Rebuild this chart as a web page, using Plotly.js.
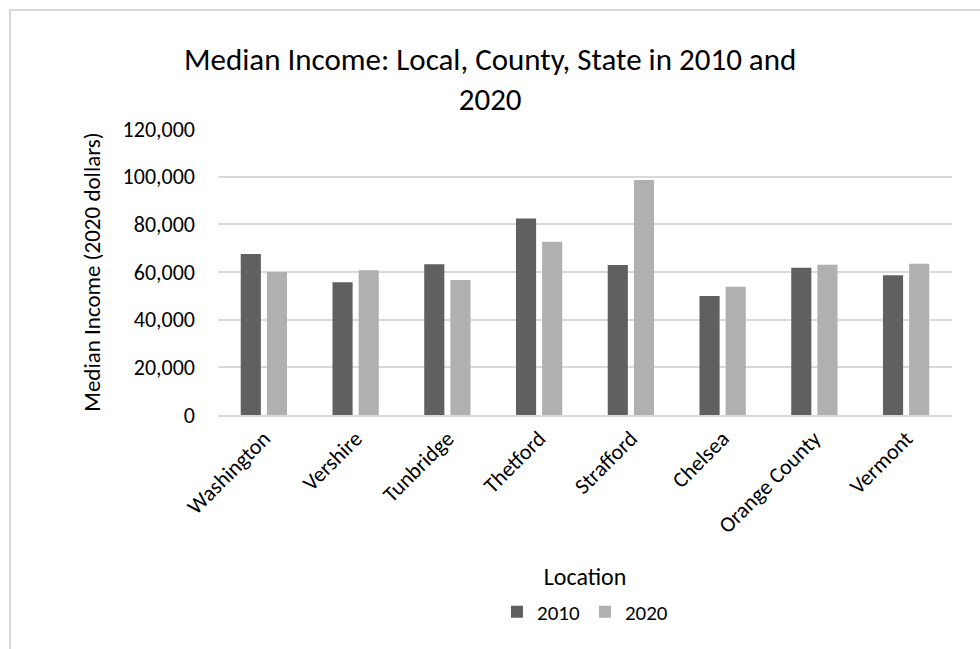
<!DOCTYPE html>
<html>
<head>
<meta charset="utf-8">
<script src="https://cdn.plot.ly/plotly-3.0.1.min.js"></script>
<style>
  html, body { margin: 0; padding: 0; background: #fff; }
  #frame { position: absolute; left: 9px; top: 9px; width: 990px; height: 660px; border-left: 2px solid #d9d9d9; border-top: 2px solid #d9d9d9; box-sizing: border-box; pointer-events: none; z-index: 5; }
  #chart { position: absolute; left: 0; top: 0; width: 980px; height: 649px; }
</style>
</head>
<body>
<div id="chart"></div>
<div id="frame"></div>
<script>
const categories = ["Washington", "Vershire", "Tunbridge", "Thetford", "Strafford", "Chelsea", "Orange County", "Vermont"];
const values2010 = [67600, 55700, 63200, 82500, 62900, 49900, 61800, 58600];
const values2020 = [60000, 60700, 56600, 72700, 98600, 53800, 63000, 63500];
const seriesNames = ["2010", "2020"];
const yTicks = [0, 20000, 40000, 60000, 80000, 100000, 120000];
const titleText = "Median Income: Local, County, State in 2010 and<br>2020";

const FONT = "Carlito, Lato, 'Liberation Sans', sans-serif";

const traces = [
  { type: "bar", name: seriesNames[0], x: categories, y: values2010, marker: { color: "#606060" } },
  { type: "bar", name: seriesNames[1], x: categories, y: values2020, marker: { color: "#b0b0b0" } }
];

const layout = {
  width: 980, height: 649,
  paper_bgcolor: "#ffffff", plot_bgcolor: "#ffffff",
  font: { family: FONT, color: "#000000", size: 18 },
  margin: { l: 218, r: 28, t: 129, b: 234 },
  barmode: "group",
  bargap: 0.43,
  bargroupgap: 0.23,
  xaxis: {
    type: "category",
    tickangle: -45,
    tickfont: { family: FONT, size: 22, color: "#000" },
    showline: true, linecolor: "#d9d9d9", linewidth: 2,
    ticks: "", showgrid: false,
    title: { text: "Location", font: { family: FONT, size: 24, color: "#000" }, standoff: 31 },
    automargin: false
  },
  yaxis: {
    range: [0, 120000],
    tickvals: yTicks,
    tickformat: ",",
    tickfont: { family: FONT, size: 22, color: "#000" },
    gridcolor: "#d9d9d9", gridwidth: 2,
    zeroline: false, showline: false, ticks: "",
    ticklabelstandoff: 22,
    title: { text: "Median Income (2020 dollars)", font: { family: FONT, size: 23, color: "#000" }, standoff: 15 },
    automargin: false
  },
  annotations: [{
    text: titleText,
    xref: "paper", yref: "paper",
    x: 0.37, y: 1.175, xanchor: "center", yanchor: "middle",
    showarrow: false,
    font: { family: FONT, size: 31, color: "#000" }
  }],
  showlegend: true,
  legend: {
    orientation: "h",
    x: 0.5, xanchor: "center", xref: "paper",
    y: 0.057, yanchor: "middle", yref: "container",
    font: { family: FONT, size: 21, color: "#000" },
    itemwidth: 30,
    traceorder: "normal"
  }
};

Plotly.newPlot("chart", traces, layout, { displayModeBar: false, staticPlot: true });
</script>
</body>
</html>
